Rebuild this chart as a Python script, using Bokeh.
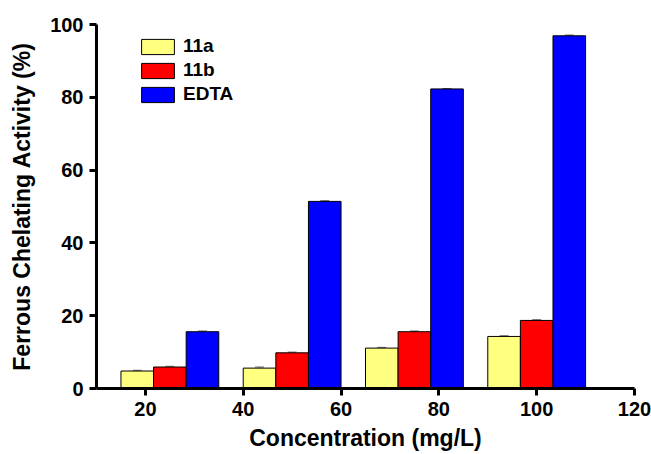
from bokeh.plotting import figure
from bokeh.models import ColumnDataSource, Range1d, Legend, LegendItem, Whisker, TeeHead
from bokeh.transform import dodge
from bokeh.embed import file_html
from bokeh.resources import INLINE

# ---- data ----
group_x = [25, 50, 75, 100]          # group centres on the concentration axis
series = ["11a", "11b", "EDTA"]
val_11a = [4.8, 5.6, 11.1, 14.3]
val_11b = [5.9, 9.8, 15.6, 18.7]
val_edta = [15.6, 51.4, 82.3, 96.9]
err_11a = [0.2, 0.3, 0.2, 0.2]
err_11b = [0.2, 0.2, 0.2, 0.2]
err_edta = [0.2, 0.2, 0.1, 0.2]
x_ticks = [20, 40, 60, 80, 100, 120]
y_ticks = [0, 20, 40, 60, 80, 100]
x_title = "Concentration (mg/L)"
y_title = "Ferrous Chelating Activity (%)"

colors = ["#FFFF80", "#FF0000", "#0000FF"]
bar_w = 20 / 3.0
offsets = [-bar_w, 0.0, bar_w]

FONT = "Liberation Sans"

p = figure(width=651, height=454, output_backend="svg", toolbar_location=None,
           x_range=Range1d(10, 120), y_range=Range1d(0, 100),
           min_border_left=96, min_border_right=17, min_border_top=24, min_border_bottom=66)
p.outline_line_color = None
p.xgrid.visible = False
p.ygrid.visible = False
p.background_fill_color = "white"
p.border_fill_color = "white"

vals = [val_11a, val_11b, val_edta]
errs = [err_11a, err_11b, err_edta]
items = []
for name, v, e, c, off in zip(series, vals, errs, colors, offsets):
    src = ColumnDataSource(dict(x=group_x, top=v,
                                lo=[a - b for a, b in zip(v, e)],
                                hi=[a + b for a, b in zip(v, e)]))
    r = p.vbar(x=dodge("x", off, range=p.x_range), top="top", width=bar_w, bottom=0,
               source=src, fill_color=c, line_color="black", line_width=1)
    w = Whisker(source=src, base=dodge("x", off, range=p.x_range), lower="lo", upper="hi",
                line_color="#666666", line_width=1,
                upper_head=TeeHead(size=9, line_color="#666666", line_width=1),
                lower_head=TeeHead(size=9, line_color="#666666", line_width=1))
    p.add_layout(w)
    items.append(LegendItem(label=name, renderers=[r]))

legend = Legend(items=items, location=(41, 283), padding=0, margin=0, spacing=2,
                glyph_width=41, glyph_height=19, label_height=19, label_standoff=5,
                label_text_font=FONT, label_text_font_style="bold", label_text_font_size="19px",
                label_text_color="black",
                background_fill_alpha=0, border_line_color=None)
p.add_layout(legend, "center")

for ax in (p.xaxis, p.yaxis):
    ax.axis_line_width = 3
    ax.axis_line_color = "black"
    ax.major_tick_line_width = 3
    ax.minor_tick_line_width = 3
    ax.major_tick_out = 7
    ax.major_tick_in = 0
    ax.minor_tick_out = 4
    ax.minor_tick_in = 0
    ax.major_label_text_font = FONT
    ax.major_label_text_font_style = "bold"
    ax.major_label_text_font_size = "20px"
    ax.major_label_text_color = "black"
    ax.axis_label_text_font = FONT
    ax.axis_label_text_font_style = "bold"
    ax.axis_label_text_color = "black"
    ax.major_label_standoff = 6

p.xaxis.ticker = x_ticks
p.yaxis.ticker = y_ticks
p.xaxis[0].ticker.num_minor_ticks = 2
p.yaxis[0].ticker.num_minor_ticks = 2
p.yaxis.axis_label = y_title
p.yaxis.axis_label_text_font_size = "23px"
p.yaxis.axis_label_standoff = 12
p.xaxis.axis_label = x_title
p.xaxis.axis_label_text_font_size = "23px"
p.xaxis.axis_label_standoff = 6

open("out.html", "w").write(file_html(p, INLINE))
